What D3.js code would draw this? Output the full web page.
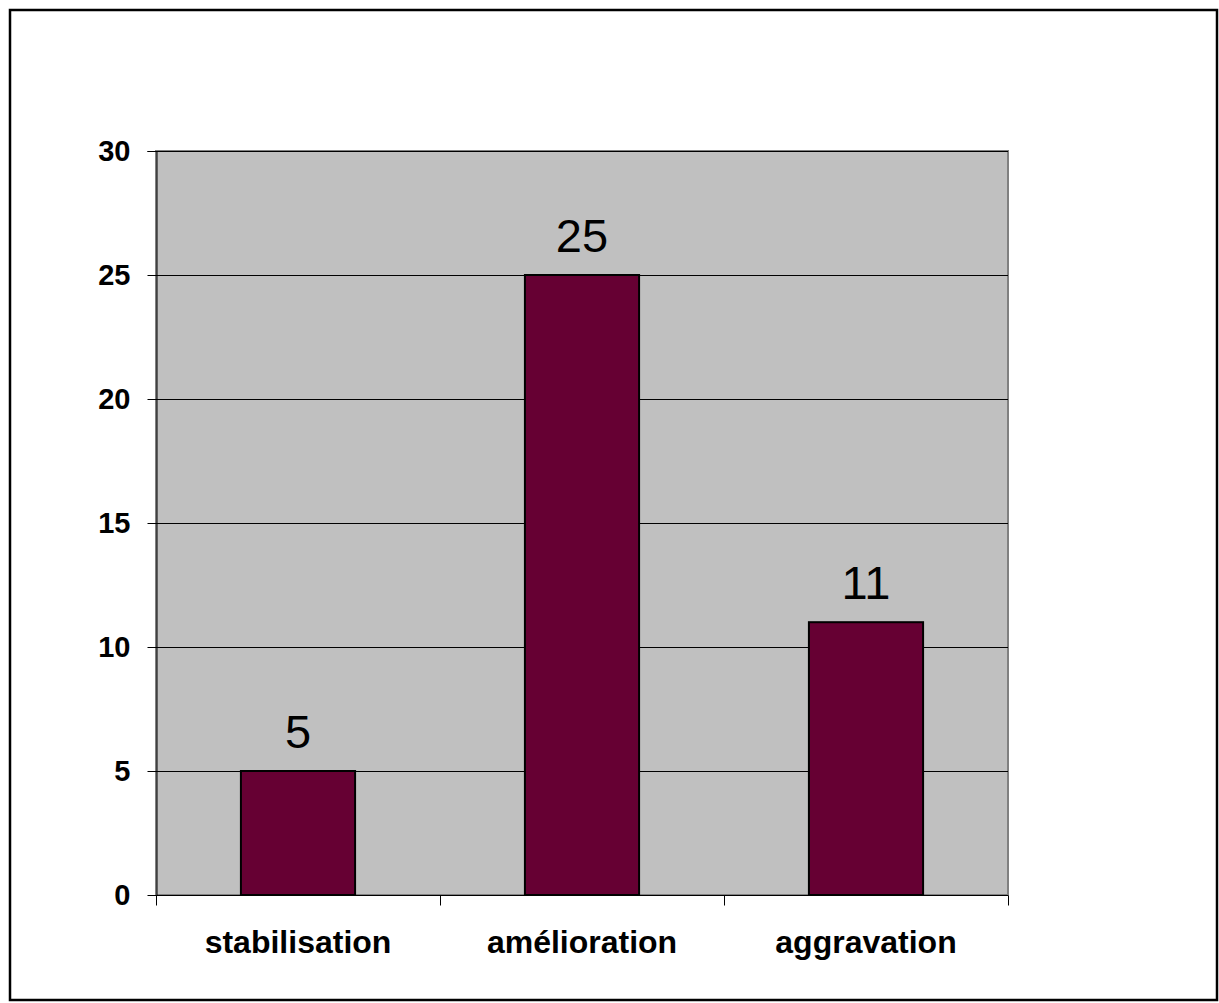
<!DOCTYPE html>
<html>
<head>
<meta charset="utf-8">
<script src="https://cdn.jsdelivr.net/npm/d3@7"></script>
<style>
  html, body { margin: 0; padding: 0; background: #fff; }
  svg { display: block; }
  text { font-family: "Liberation Sans", Arial, sans-serif; }
</style>
</head>
<body>
<svg id="chart" width="1219" height="1003"></svg>
<script>
const categories = ["stabilisation", "amélioration", "aggravation"];
const values = [5, 25, 11];
const yTicks = [0, 5, 10, 15, 20, 25, 30];

const svg = d3.select("#chart");

// outer frame
svg.append("rect").attr("x", 10).attr("y", 10).attr("width", 1207).attr("height", 990)
  .attr("fill", "#fff").attr("stroke", "#000").attr("stroke-width", 2.5);

const plot = { left: 156, right: 1008, top: 151, bottom: 895 };

const x = d3.scaleBand().domain(categories).range([plot.left, plot.right])
  .paddingInner(0.598).paddingOuter(0.299);
const y = d3.scaleLinear().domain([0, 30]).range([plot.bottom, plot.top]);

// plot background
svg.append("rect").attr("x", plot.left).attr("y", plot.top)
  .attr("width", plot.right - plot.left).attr("height", plot.bottom - plot.top)
  .attr("fill", "#c0c0c0").attr("stroke", "#808080").attr("stroke-width", 2);

// gridlines
svg.append("g").selectAll("line").data(yTicks.filter(d => d > 0)).join("line")
  .attr("x1", plot.left).attr("x2", plot.right)
  .attr("y1", d => Math.round(y(d)) + 0.5).attr("y2", d => Math.round(y(d)) + 0.5)
  .attr("stroke", "#000").attr("stroke-width", 1);

// bars
svg.append("g").selectAll("rect").data(categories).join("rect")
  .attr("x", d => x(d))
  .attr("y", (d, i) => y(values[i]))
  .attr("width", x.bandwidth())
  .attr("height", (d, i) => y(0) - y(values[i]))
  .attr("fill", "#660033").attr("stroke", "#000").attr("stroke-width", 2);

// value labels
svg.append("g").selectAll("text").data(categories).join("text")
  .attr("x", d => x(d) + x.bandwidth() / 2)
  .attr("y", (d, i) => y(values[i]) - 23)
  .attr("text-anchor", "middle")
  .style("font-size", "47px")
  .attr("fill", "#000")
  .text((d, i) => values[i]);

// y axis
const yAxis = d3.axisLeft(y).tickValues(yTicks).tickSize(9).tickPadding(17);
const gy = svg.append("g").attr("transform", `translate(${plot.left + 0.5},0)`).call(yAxis);
gy.attr("font-size", null).attr("font-family", null);
gy.select(".domain").attr("stroke", "#000").attr("d", `M-9,${plot.top + 0.5}H0.5V${plot.bottom + 0.5}`);
gy.selectAll(".tick line").attr("stroke", "#000");
gy.selectAll(".tick text")
  .style("font-size", "29px").style("font-weight", "bold")
  .style("font-family", "'Liberation Sans', Arial, sans-serif").attr("fill", "#000");

// x axis
const xAxis = d3.axisBottom(x).tickSize(0).tickPadding(0);
const gx = svg.append("g").attr("transform", `translate(0,${plot.bottom + 0.5})`).call(xAxis);
gx.attr("font-size", null).attr("font-family", null);
gx.select(".domain").attr("stroke", "#000").attr("d", `M${plot.left},0H${plot.right}`);
gx.selectAll(".tick text")
  .attr("y", 57).attr("dy", null)
  .style("font-size", "32px").style("font-weight", "bold")
  .style("font-family", "'Liberation Sans', Arial, sans-serif").attr("fill", "#000");

// category boundary ticks
const bounds = [plot.left, ...categories.map(c => x(c) + x.bandwidth() + x.step() * x.paddingInner() / 2)];
gx.append("g").selectAll("line").data(bounds).join("line")
  .attr("x1", d => Math.round(d) + 0.5).attr("x2", d => Math.round(d) + 0.5)
  .attr("y1", 0).attr("y2", 10).attr("stroke", "#000");
</script>
</body>
</html>
